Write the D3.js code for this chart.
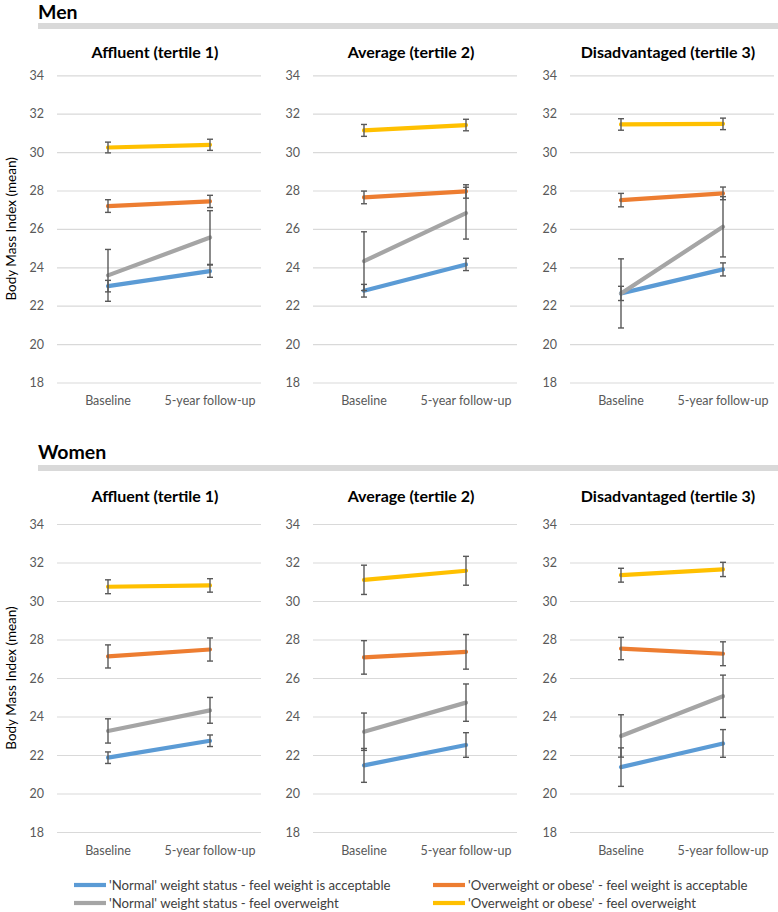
<!DOCTYPE html>
<html><head><meta charset="utf-8">
<script src="https://cdn.jsdelivr.net/npm/d3@7"></script>
<style>
html,body{margin:0;padding:0;background:#fff;}
svg{display:block;font-family:Lato, "Open Sans", sans-serif;}
</style></head>
<body>
<svg id="chart" width="778" height="912"></svg>
<script>
// ---------- DATA ----------
const timepoints = ["Baseline", "5-year follow-up"];
const tertiles = ["Affluent (tertile 1)", "Average (tertile 2)", "Disadvantaged (tertile 3)"];
const sexes = ["Men", "Women"];
const seriesNames = [
  "'Normal' weight status - feel weight is acceptable",
  "'Overweight or obese' - feel weight is acceptable",
  "'Normal' weight status - feel overweight",
  "'Overweight or obese' - feel overweight"
];
const seriesColors = ["#5b9bd5", "#ed7d31", "#a5a5a5", "#ffc000"];
const yTicks = [18, 20, 22, 24, 26, 28, 30, 32, 34];

// Means per series [blue, orange, gray, yellow], each [baseline, follow-up]
const menAffluentMean      = [[23.02, 23.80], [27.19, 27.43], [23.58, 25.55], [30.24, 30.38]];
const menAffluentErr       = [[0.30, 0.32], [0.33, 0.32], [1.35, 1.40], [0.28, 0.29]];
const menAverageMean       = [[22.78, 24.15], [27.64, 27.95], [24.32, 26.82], [31.13, 31.41]];
const menAverageErr        = [[0.33, 0.32], [0.33, 0.35], [1.53, 1.35], [0.31, 0.30]];
const menDisadvantagedMean = [[22.64, 23.89], [27.50, 27.85], [22.64, 26.11], [31.44, 31.47]];
const menDisadvantagedErr  = [[0.37, 0.34], [0.35, 0.33], [1.80, 1.57], [0.30, 0.30]];

const womenAffluentMean      = [[21.86, 22.74], [27.12, 27.48], [23.25, 24.32], [30.74, 30.81]];
const womenAffluentErr       = [[0.30, 0.30], [0.60, 0.60], [0.63, 0.67], [0.36, 0.35]];
const womenAverageMean       = [[21.46, 22.52], [27.07, 27.36], [23.21, 24.72], [31.10, 31.57]];
const womenAverageErr        = [[0.88, 0.64], [0.87, 0.90], [0.97, 0.97], [0.76, 0.75]];
const womenDisadvantagedMean = [[21.37, 22.60], [27.53, 27.26], [22.99, 25.05], [31.34, 31.64]];
const womenDisadvantagedErr  = [[1.00, 0.72], [0.58, 0.62], [1.10, 1.10], [0.36, 0.37]];

const groupMeans = [[menAffluentMean, menAverageMean, menDisadvantagedMean],
                    [womenAffluentMean, womenAverageMean, womenDisadvantagedMean]];
const groupErrs  = [[menAffluentErr, menAverageErr, menDisadvantagedErr],
                    [womenAffluentErr, womenAverageErr, womenDisadvantagedErr]];

// ---------- LAYOUT ----------
const svg = d3.select("#chart");
const panelX = [57, 313, 570];
const panelW = 204;
const sexLayout = [
  {title: 19, bar: 26, ptitle: 52, top: 75.3, bottom: 382.5, xlab: 401},
  {title: 459, bar: 468, ptitle: 496, top: 524, bottom: 832, xlab: 851}
];
const gridColor = "#d9d9d9";
const textColor = "#595959";

sexes.forEach((sex, si) => {
  const L = sexLayout[si];
  svg.append("text").attr("x", 38).attr("y", L.title)
    .attr("font-size", 19.5).attr("font-weight", "bold").attr("fill", "#000").text(sex);
  svg.append("rect").attr("x", 38).attr("y", L.bar - 3).attr("width", 740).attr("height", 6)
    .attr("fill", "#d9d9d9");

  const y = d3.scaleLinear().domain([18, 34]).range([L.bottom, L.top]);

  tertiles.forEach((tert, ti) => {
    const x0 = panelX[ti];
    const x = d3.scaleBand().domain(timepoints).range([x0, x0 + panelW]);
    const g = svg.append("g");

    g.append("text").attr("x", x0 + panelW / 2 - 4).attr("y", L.ptitle).attr("dy", "0.35em")
      .attr("text-anchor", "middle").attr("font-size", 16).attr("font-weight", "bold")
      .attr("fill", "#000").text(tert);

    // y axis (gridlines + labels)
    const yAxis = d3.axisLeft(y).tickValues(yTicks).tickSize(-panelW).tickPadding(13);
    const ya = g.append("g").attr("transform", `translate(${x0},0)`).call(yAxis);
    ya.select(".domain").remove();
    ya.selectAll(".tick line").attr("stroke", gridColor).attr("stroke-width", 1.2);
    ya.selectAll(".tick text").attr("fill", textColor).attr("font-size", 12.5)
      .attr("font-family", "Lato, sans-serif");

    // x axis labels
    const xAxis = d3.axisBottom(x).tickSize(0).tickPadding(0);
    const xa = g.append("g").attr("transform", `translate(0,${L.xlab})`).call(xAxis);
    xa.select(".domain").remove();
    xa.selectAll(".tick text").attr("fill", textColor).attr("font-size", 12.5)
      .attr("dy", "0.35em").attr("font-family", "Lato, sans-serif");

    const means = groupMeans[si][ti];
    const errs = groupErrs[si][ti];
    const line = d3.line().x((d, i) => x(timepoints[i]) + x.bandwidth() / 2).y(d => y(d));

    means.forEach((vals, k) => {
      g.append("path").datum(vals).attr("d", line).attr("fill", "none")
        .attr("stroke", seriesColors[k]).attr("stroke-width", 4.2).attr("stroke-linecap", "round");
    });
    // error bars on top
    means.forEach((vals, k) => {
      vals.forEach((v, i) => {
        const cx = x(timepoints[i]) + x.bandwidth() / 2;
        const e = errs[k][i];
        const eg = g.append("g").attr("stroke", "#595959").attr("stroke-width", 1.4);
        eg.append("line").attr("x1", cx).attr("x2", cx).attr("y1", y(v - e)).attr("y2", y(v + e));
        eg.append("line").attr("x1", cx - 3).attr("x2", cx + 3).attr("y1", y(v - e)).attr("y2", y(v - e));
        eg.append("line").attr("x1", cx - 3).attr("x2", cx + 3).attr("y1", y(v + e)).attr("y2", y(v + e));
      });
    });

    if (ti === 0) {
      g.append("text").attr("transform", `translate(11,${(L.top + L.bottom) / 2}) rotate(-90)`)
        .attr("text-anchor", "middle").attr("dy", "0.35em").attr("font-size", 13.5)
        .attr("fill", "#000").text("Body Mass Index (mean)");
    }
  });
});

// ---------- LEGEND ----------
const legendPos = [[74, 885], [433, 885], [74, 903], [433, 903]];
const lg = svg.append("g");
seriesNames.forEach((name, k) => {
  const [lx, ly] = legendPos[k];
  lg.append("line").attr("x1", lx).attr("x2", lx + 32).attr("y1", ly).attr("y2", ly)
    .attr("stroke", seriesColors[k]).attr("stroke-width", 4.2);
  lg.append("text").attr("x", lx + 35).attr("y", ly).attr("dy", "0.35em")
    .attr("font-size", 13.2).attr("fill", "#404040").text(name);
});
</script>
</body></html>
